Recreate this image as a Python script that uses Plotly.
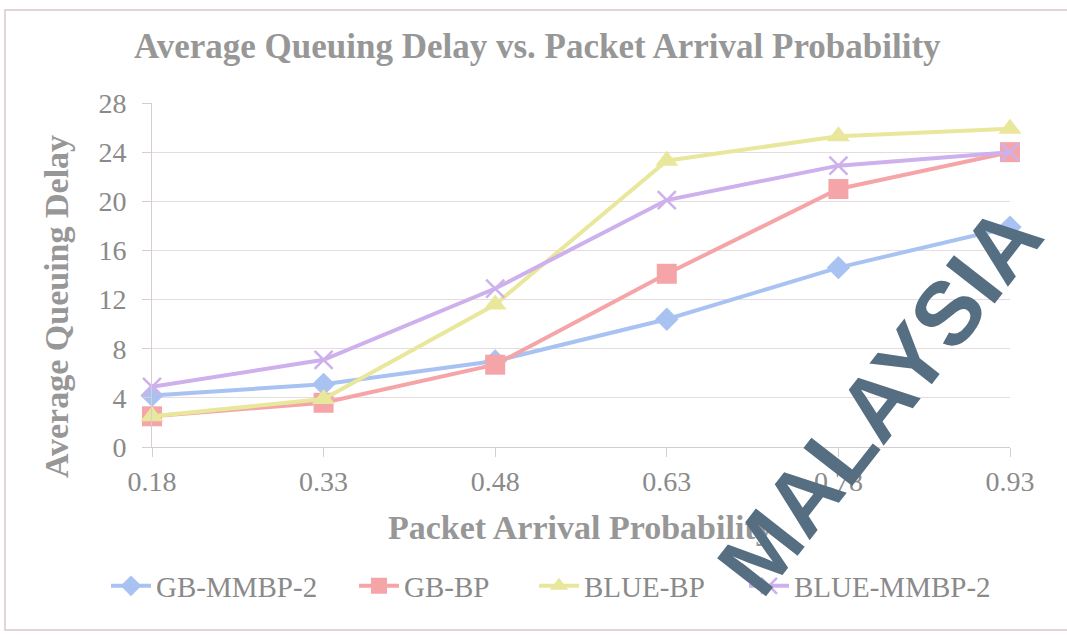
import plotly.graph_objects as go

categories = ["0.18", "0.33", "0.48", "0.63", "0.78", "0.93"]
gb_mmbp2 = [4.2, 5.1, 7.0, 10.4, 14.6, 17.9]
gb_bp = [2.5, 3.6, 6.7, 14.1, 21.0, 24.0]
blue_bp = [2.5, 3.9, 11.6, 23.3, 25.3, 25.9]
blue_mmbp2 = [4.9, 7.1, 12.9, 20.1, 22.9, 24.0]
y_ticks = [0, 4, 8, 12, 16, 20, 24, 28]

SERIF = "Liberation Serif, Times New Roman, serif"
GRAY = "#8a8a8a"

PL, PR, PT, PB = 152, 57, 103, 188
W, H = 1067, 635
pw, ph = W - PL - PR, H - PT - PB


def px(x):
    return (x - PL) / pw


def py(y):
    return (H - PB - y) / ph


series = [
    ("GB-MMBP-2", gb_mmbp2, "#a8c2f2", dict(symbol="diamond", size=18), 157),
    ("GB-BP", gb_bp, "#f5a5a8", dict(symbol="square", size=20), 405),
    ("BLUE-BP", blue_bp, "#e9e79b", dict(symbol="triangle-up", size=20), 585),
    ("BLUE-MMBP-2", blue_mmbp2, "#cdb0ec", dict(symbol="x-thin", size=18), 795),
]

fig = go.Figure()
legend_layouts = {}
for i, (name, vals, col, mk, text_x) in enumerate(series):
    marker = dict(color=col, **mk)
    if mk["symbol"] == "x-thin":
        marker["line"] = dict(color=col, width=2.5)
    else:
        marker["line"] = dict(color=col, width=0)
    lname = "legend" if i == 0 else f"legend{i + 1}"
    fig.add_trace(go.Scatter(
        x=categories, y=vals, name=name, mode="lines+markers",
        line=dict(color=col, width=4), marker=marker, cliponaxis=False,
        legend=lname,
    ))
    legend_layouts[lname] = dict(
        orientation="h", x=px(text_x - 51), y=py(586), xanchor="left", yanchor="middle",
        font=dict(family=SERIF, size=29, color=GRAY), itemwidth=40,
        bgcolor="rgba(0,0,0,0)")

fig.update_layout(
    width=W, height=H,
    margin=dict(l=PL, r=PR, t=PT, b=PB, autoexpand=False),
    paper_bgcolor="white", plot_bgcolor="white",
    font=dict(family=SERIF, color=GRAY, size=28),
    showlegend=True,
    xaxis=dict(type="category", range=[0, 5], showgrid=False, showline=True,
               linecolor="#d6cdd1", linewidth=1, ticks="outside", ticklen=9,
               tickcolor="#d6cdd1", tickfont=dict(family=SERIF, size=28, color=GRAY),
               zeroline=False, automargin=False),
    yaxis=dict(range=[0, 28], tickvals=y_ticks, showgrid=True, gridcolor="#e6dce0",
               gridwidth=1, showline=True, linecolor="#d6cdd1", linewidth=1,
               ticks="outside", ticklen=9, tickcolor="#d6cdd1", ticklabelstandoff=10,
               tickfont=dict(family=SERIF, size=28, color=GRAY), zeroline=False,
               automargin=False),
    **legend_layouts,
)

fig.add_annotation(text="<b>Average Queuing Delay vs. Packet Arrival Probability</b>",
                   xref="paper", yref="paper", x=px(537), y=py(47), showarrow=False,
                   xanchor="center", yanchor="middle",
                   font=dict(family=SERIF, size=35, color="#979797"))
fig.add_annotation(text="<b>Packet Arrival Probability</b>",
                   xref="paper", yref="paper", x=px(580), y=py(527), showarrow=False,
                   xanchor="center", yanchor="middle",
                   font=dict(family=SERIF, size=34, color="#979797"))
fig.add_annotation(text="<b>Average Queuing Delay</b>",
                   xref="paper", yref="paper", x=px(56), y=py(307), showarrow=False,
                   xanchor="center", yanchor="middle", textangle=-90,
                   font=dict(family=SERIF, size=34, color="#979797"))

# scanned watermark
fig.add_annotation(text="<b>MALAYSIA</b>", xref="paper", yref="paper", x=px(880), y=py(400),
                   showarrow=False, xanchor="center", yanchor="middle", textangle=-52,
                   font=dict(family="Liberation Sans, Arial, sans-serif", size=90,
                             color="#566e82"))

# chart border
fig.add_shape(type="rect", xref="paper", yref="paper",
              x0=px(5), x1=px(1085), y0=py(630), y1=py(10),
              line=dict(color="#d9c8ce", width=1.5), layer="below")

fig.write_html("out.html", config={"displayModeBar": False},
               post_script="document.body.style.margin='0';document.body.style.overflow='hidden';")
